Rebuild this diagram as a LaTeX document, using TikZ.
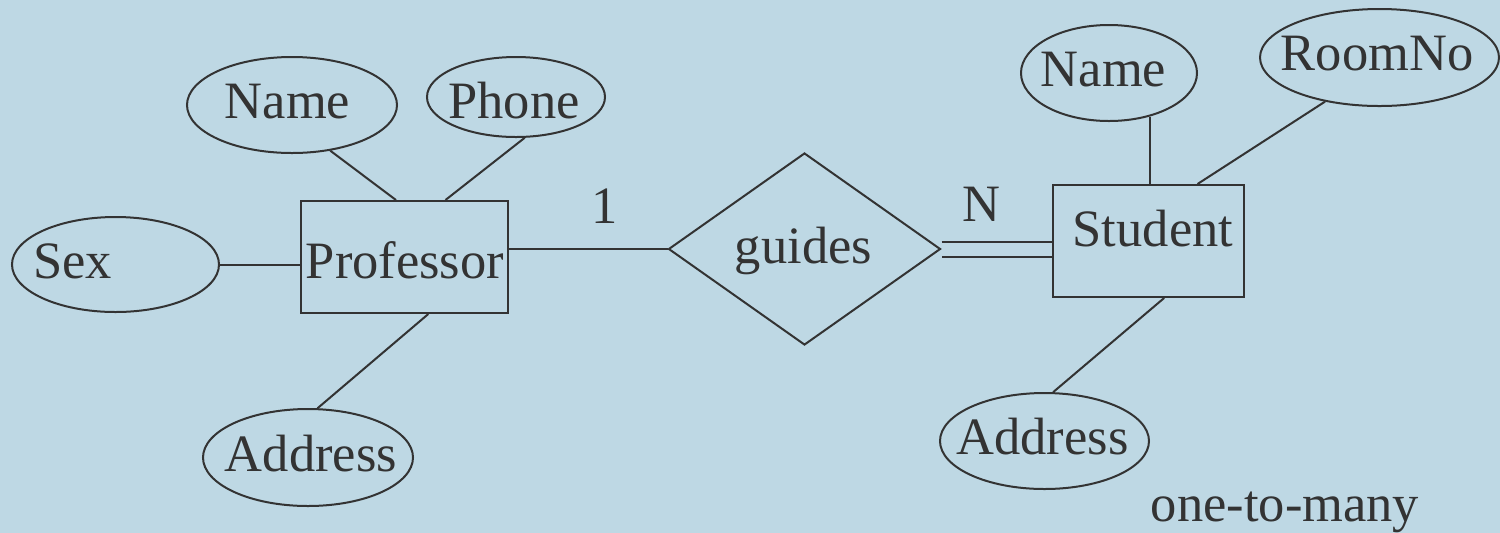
\documentclass[tikz,border=0pt]{standalone}
\usepackage{fontspec}
\setmainfont{Liberation Serif}
\usetikzlibrary{shapes.geometric,calc}
\definecolor{bgc}{RGB}{190,216,228}
\definecolor{ink}{RGB}{51,51,51}
\begin{document}
\begin{tikzpicture}[x=0.5pt,y=-0.5pt,
  attr/.style={ellipse, draw=ink, line width=1pt, inner sep=0pt},
  entity/.style={rectangle, draw=ink, line width=1pt, inner sep=0pt},
  rel/.style={diamond, draw=ink, line width=1pt, inner sep=0pt},
  lbl/.style={anchor=base, inner sep=0pt, text=ink, font=\fontsize{26.25pt}{30pt}\selectfont},
  conn/.style={draw=ink, line width=1pt}]
\useasboundingbox (0,0) rectangle (1500,532);
\fill[bgc] (-10,-10) rectangle (1510,542);

% shapes
\node[entity, minimum width=103.5pt, minimum height=56pt] (prof) at (404.5,257) {};
\node[entity, minimum width=95.5pt, minimum height=56pt] (stud) at (1148.5,241) {};
\node[rel, minimum width=136pt, minimum height=96pt] (guides) at (804.5,249) {};
\node[attr, minimum width=105pt, minimum height=48pt] (pname) at (292,105) {};
\node[attr, minimum width=89pt, minimum height=40pt] (pphone) at (516,97) {};
\node[attr, minimum width=103.5pt, minimum height=47.5pt] (psex) at (115.5,264.5) {};
\node[attr, minimum width=105pt, minimum height=48.5pt] (paddr) at (308,457.5) {};
\node[attr, minimum width=88pt, minimum height=48pt] (sname) at (1109,73) {};
\node[attr, minimum width=119.5pt, minimum height=48.5pt] (sroom) at (1379.5,57.5) {};
\node[attr, minimum width=104.5pt, minimum height=48pt] (saddr) at (1044.5,441) {};

% connectors
\draw[conn] (pname.-50) -- ($(prof.north west)!0.459!(prof.north east)$);
\draw[conn] (pphone.-78.7) -- ($(prof.north west)!0.696!(prof.north east)$);
\draw[conn] (psex.east) -- (psex.east -| prof.west);
\draw[conn] (paddr.79.5) -- ($(prof.south west)!0.614!(prof.south east)$);
\draw[conn] (guides.west -| prof.east) -- (guides.west);
\draw[conn, double=bgc, double distance=6.5pt] (guides.east) -- (guides.east -| stud.west);
\draw[conn] (sname.-47) -- (sname.-47 |- stud.north);
\draw[conn] (sroom.-141.7) -- ($(stud.north west)!0.754!(stud.north east)$);
\draw[conn] (saddr.80) -- ($(stud.south west)!0.581!(stud.south east)$);

% labels
\node[lbl] (tpname) at (287.5,118) {Name};
\node[lbl] (tpphone) at (514,118) {Phone};
\node[lbl] (tpsex) at (72.5,278) {Sex};
\node[lbl] (tprof) at (405,278) {Professor};
\node[lbl] (tpaddr) at (311,471) {Address};
\node[lbl] (tone) at (605,223) {1};
\node[lbl] (tguides) at (803.5,263) {guides};
\node[lbl] (tN) at (981.5,221) {N};
\node[lbl] (tstud) at (1153,246) {Student};
\node[lbl] (tsname) at (1103.5,86) {Name};
\node[lbl] (tsroom) at (1377,70.5) {RoomNo};
\node[lbl] (tsaddr) at (1042.5,454) {Address};
\node[lbl] (tcard) at (1285,521) {one-to-many};
\end{tikzpicture}
\end{document}
